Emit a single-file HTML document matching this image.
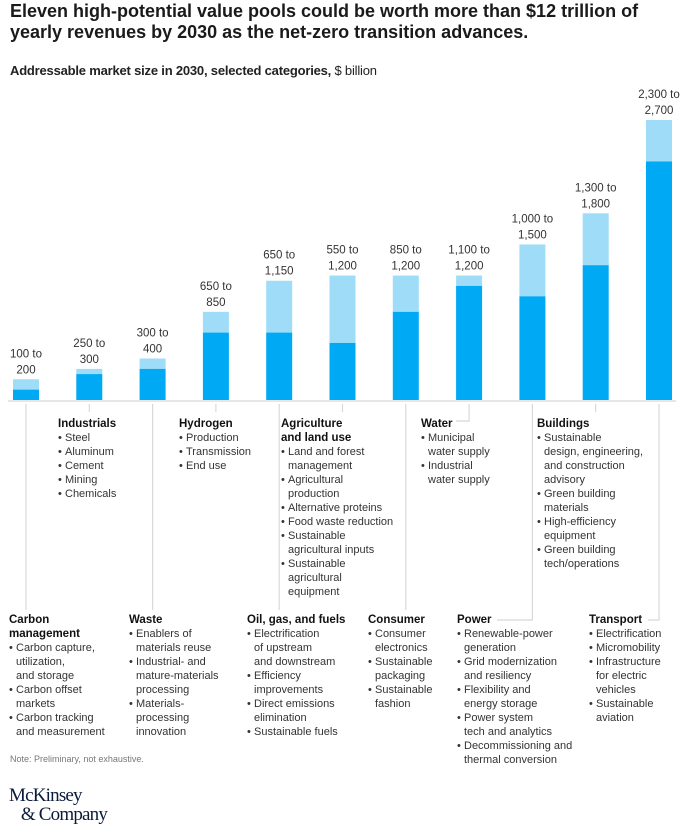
<!DOCTYPE html>
<html><head><meta charset="utf-8">
<style>
body{margin:0;background:#fff;width:687px;height:833px;position:relative;overflow:hidden;font-family:"Liberation Sans",Arial,sans-serif;color:#222}
.title{position:absolute;left:10px;top:1px;font-size:18px;font-weight:bold;line-height:21px;letter-spacing:0px;color:#1a1a1a}
.sub{position:absolute;left:10px;top:63px;font-size:13px;font-weight:bold;letter-spacing:-0.2px}
.sub span{font-weight:normal}
.blk{position:absolute;font-size:11px;line-height:14px;color:#333;white-space:nowrap}
.blk b{display:block;color:#111;font-size:11.5px}
.blk ul{list-style:none;margin:0;padding:0}
.blk li{padding-left:7px;text-indent:-7px}
.blk li:before{content:"•";display:inline-block;width:7px;text-indent:0}
.note{position:absolute;left:10px;top:754px;font-size:9px;color:#777}
.logo{position:absolute;left:9px;top:786px;font-family:"Liberation Serif",serif;font-size:19px;line-height:19px;color:#0a1a3a;letter-spacing:-0.8px}
</style></head><body>
<div class="title">Eleven high-potential value pools could be worth more than $12 trillion of<br>yearly revenues by 2030 as the net-zero transition advances.</div>
<div class="sub">Addressable market size in 2030, selected categories, <span>$ billion</span></div>
<svg id="chart" width="687" height="833" style="position:absolute;left:0;top:0"></svg>

<div class="blk" style="left:58px;top:417px"><b>Industrials</b><ul><li>Steel</li><li>Aluminum</li><li>Cement</li><li>Mining</li><li>Chemicals</li></ul></div>
<div class="blk" style="left:179px;top:417px"><b>Hydrogen</b><ul><li>Production</li><li>Transmission</li><li>End use</li></ul></div>
<div class="blk" style="left:281px;top:417px"><b>Agriculture<br>and land use</b><ul><li>Land and forest<br>management</li><li>Agricultural<br>production</li><li>Alternative proteins</li><li>Food waste reduction</li><li>Sustainable<br>agricultural inputs</li><li>Sustainable<br>agricultural<br>equipment</li></ul></div>
<div class="blk" style="left:421px;top:417px"><b>Water</b><ul><li>Municipal<br>water supply</li><li>Industrial<br>water supply</li></ul></div>
<div class="blk" style="left:537px;top:417px"><b>Buildings</b><ul><li>Sustainable<br>design, engineering,<br>and construction<br>advisory</li><li>Green building<br>materials</li><li>High-efficiency<br>equipment</li><li>Green building<br>tech/operations</li></ul></div>

<div class="blk" style="left:9px;top:613px"><b>Carbon<br>management</b><ul><li>Carbon capture,<br>utilization,<br>and storage</li><li>Carbon offset<br>markets</li><li>Carbon tracking<br>and measurement</li></ul></div>
<div class="blk" style="left:129px;top:613px"><b>Waste</b><ul><li>Enablers of<br>materials reuse</li><li>Industrial- and<br>mature-materials<br>processing</li><li>Materials-<br>processing<br>innovation</li></ul></div>
<div class="blk" style="left:247px;top:613px"><b>Oil, gas, and fuels</b><ul><li>Electrification<br>of upstream<br>and downstream</li><li>Efficiency<br>improvements</li><li>Direct emissions<br>elimination</li><li>Sustainable fuels</li></ul></div>
<div class="blk" style="left:368px;top:613px"><b>Consumer</b><ul><li>Consumer<br>electronics</li><li>Sustainable<br>packaging</li><li>Sustainable<br>fashion</li></ul></div>
<div class="blk" style="left:457px;top:613px"><b>Power</b><ul><li>Renewable-power<br>generation</li><li>Grid modernization<br>and resiliency</li><li>Flexibility and<br>energy storage</li><li>Power system<br>tech and analytics</li><li>Decommissioning and<br>thermal conversion</li></ul></div>
<div class="blk" style="left:589px;top:613px"><b>Transport</b><ul><li>Electrification</li><li>Micromobility</li><li>Infrastructure<br>for electric<br>vehicles</li><li>Sustainable<br>aviation</li></ul></div>

<div class="note">Note: Preliminary, not exhaustive.</div>
<div class="logo">McKinsey<br>&nbsp;&nbsp;&nbsp;&amp; Company</div>

<script>
const categories=["Carbon management","Industrials","Waste","Hydrogen","Oil, gas, and fuels","Agriculture","Consumer","Water","Power","Buildings","Transport"];
const lowValues=[100,250,300,650,650,550,850,1100,1000,1300,2300];
const highValues=[200,300,400,850,1150,1200,1200,1200,1500,1800,2700];
const labelLow=["100","250","300","650","650","550","850","1,100","1,000","1,300","2,300"];
const labelHigh=["200","300","400","850","1,150","1,200","1,200","1,200","1,500","1,800","2,700"];
const NS="http://www.w3.org/2000/svg";
const svg=document.getElementById('chart');
const base=400, scale=280/2700, x0=26, pitch=63.3, bw=26;
const xC=i=>x0+i*pitch;
const yV=v=>base-v*scale;
function mk(t,a){const e=document.createElementNS(NS,t);for(const k in a)e.setAttribute(k,a[k]);svg.appendChild(e);return e;}
mk('line',{x1:8,x2:676,y1:base+1,y2:base+1,stroke:'#e6e6e6','stroke-width':2});
categories.forEach((c,i)=>{
  const cx=xC(i);
  const hi=mk('rect',{x:cx-bw/2,y:yV(highValues[i]),width:bw,height:yV(lowValues[i])-yV(highValues[i]),fill:'#9edcf8'});
  
  
  const lo=mk('rect',{x:cx-bw/2,y:yV(lowValues[i]),width:bw,height:base-yV(lowValues[i]),fill:'#00a9f4'});
  
  
  const t1=mk('text',{x:cx,y:yV(highValues[i])-22,'text-anchor':'middle','font-size':'11.5','fill':'#333','font-family':'Liberation Sans, sans-serif'});
  t1.textContent=labelLow[i]+" to";
  
  
  const t2=mk('text',{x:cx,y:yV(highValues[i])-6,'text-anchor':'middle','font-size':'11.5','fill':'#333','font-family':'Liberation Sans, sans-serif'});
  t2.textContent=labelHigh[i];
  
  
  let d;
  if(i===7) d=`M${cx},404 V421 H456`;
  else if(i===8) d=`M${cx},404 V620 H497`;
  else if(i===10) d=`M${cx},404 V620 H648`;
  else if(i%2===0) d=`M${cx},404 V610`;
  else d=`M${cx},404 V412`;
  const ln=mk('path',{d:d,fill:'none',stroke:'#d8d8d8','stroke-width':1.2});
  
  
});
</script>
</body></html>
